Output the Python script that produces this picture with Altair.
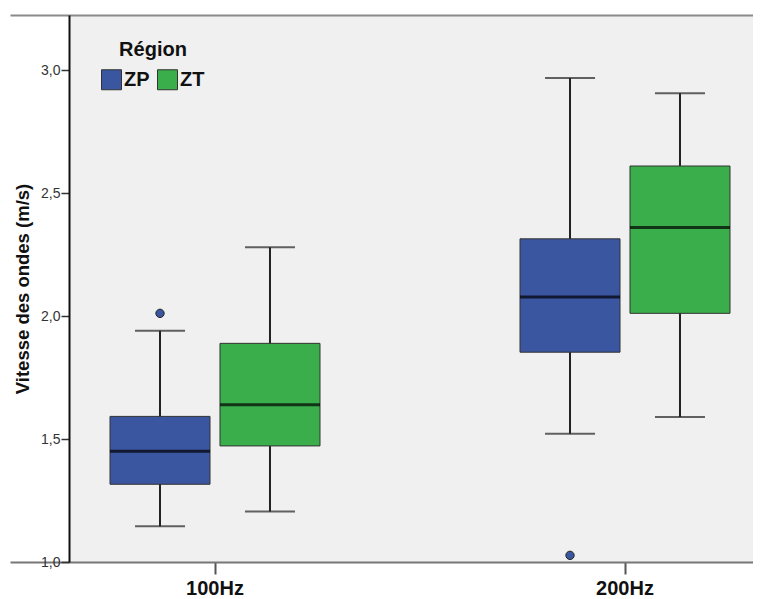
import altair as alt
import pandas as pd

# ---- data ----
freqs = ["100Hz", "100Hz", "200Hz", "200Hz"]
regions = ["ZP", "ZT", "ZP", "ZT"]
lower = [1.145, 1.205, 1.521, 1.590]
q1 = [1.316, 1.472, 1.853, 2.011]
median = [1.450, 1.639, 2.077, 2.360]
q3 = [1.592, 1.889, 2.314, 2.610]
upper = [1.940, 2.280, 2.968, 2.906]

out_freqs = ["100Hz", "200Hz"]
out_regions = ["ZP", "ZP"]
out_values = [2.011, 1.027]

y_ticks = [1.0, 1.5, 2.0, 2.5, 3.0]
region_order = ["ZP", "ZT"]
region_colors = ["#3b56a0", "#3aae4a"]

box = pd.DataFrame({"freq": freqs, "region": regions, "lower": lower, "q1": q1,
                    "median": median, "q3": q3, "upper": upper})
outl = pd.DataFrame({"freq": out_freqs, "region": out_regions, "value": out_values})

FONT = "Liberation Sans"
W, H = 684, 547

xscale = alt.Scale(range=[-59, 761], paddingInner=0, paddingOuter=0)
x_bottom = alt.X("freq:N", title=None, scale=xscale,
                 axis=alt.Axis(labelAngle=0, labelFontSize=20, labelFontWeight="bold",
                               labelColor="#111", labelFont=FONT, tickSize=12,
                               tickColor="#555", tickWidth=2, domainColor="#777",
                               domainWidth=2, labelPadding=4, grid=False))
x_top = alt.X("freq:N", title=None, scale=xscale,
              axis=alt.Axis(orient="top", labels=False, ticks=False, domainColor="#8a8a8a",
                            domainWidth=2, grid=False))
x_none = alt.X("freq:N", title=None, scale=xscale, axis=None)

xoff = alt.XOffset("region:N", scale=alt.Scale(domain=region_order, paddingInner=0,
                                                paddingOuter=0.864))
yscale = alt.Scale(domain=[1.0, 3.224], nice=False, zero=False)
yaxis = alt.Axis(values=y_ticks, labelExpr="replace(format(datum.value, '.1f'), '.', ',')",
                 title="Vitesse des ondes (m/s)", titleFontSize=18.5, titleFontWeight="bold",
                 titleFont=FONT, titleColor="#111", titlePadding=8,
                 labelFontSize=14, labelFont=FONT, labelColor="#333", labelPadding=1,
                 tickSize=8, tickColor="#333", tickWidth=1.5,
                 domainColor="#111", domainWidth=2, grid=False)

whisk = alt.Chart(box).mark_rule(color="#222", strokeWidth=2).encode(
    x=x_top, xOffset=xoff,
    y=alt.Y("lower:Q", scale=yscale, axis=yaxis), y2="upper:Q")

bars = alt.Chart(box).mark_bar(size=100, stroke="#333", strokeWidth=1, opacity=1).encode(
    x=x_bottom, xOffset=xoff,
    y=alt.Y("q1:Q", scale=yscale), y2="q3:Q",
    color=alt.Color("region:N", scale=alt.Scale(domain=region_order, range=region_colors),
                    legend=alt.Legend(title="Région", orient="none", legendX=32, legendY=25,
                                      direction="horizontal", titleAnchor="middle",
                                      titleFontSize=20, titleFontWeight="bold", titleFont=FONT,
                                      titleColor="#111", titlePadding=9,
                                      labelFontSize=20, labelFont=FONT, labelFontWeight="bold",
                                      labelColor="#111", labelOffset=2, columnPadding=5,
                                      symbolType="square", symbolSize=400,
                                      symbolStrokeColor="#333", symbolStrokeWidth=1,
                                      symbolOpacity=1, padding=0)))

base = alt.Chart(box).encode(x=x_none, xOffset=xoff)
med = base.mark_tick(size=100, thickness=3, color="black").encode(
    y=alt.Y("median:Q", scale=yscale))
cap_lo = base.mark_tick(size=50, thickness=2, color="#222").encode(
    y=alt.Y("lower:Q", scale=yscale))
cap_hi = base.mark_tick(size=50, thickness=2, color="#222").encode(
    y=alt.Y("upper:Q", scale=yscale))

pts = alt.Chart(outl).mark_point(shape="circle", filled=True, size=70, fill="#3b56a0",
                                 stroke="#222", strokeWidth=1, opacity=1).encode(
    x=x_none, xOffset=xoff, y=alt.Y("value:Q", scale=yscale))

chart = alt.layer(whisk, bars, med, cap_lo, cap_hi, pts).resolve_axis(
    x="independent"
).properties(
    width=W, height=H,
    autosize=alt.AutoSizeParams(type="none"),
    padding={"left": 61, "top": 7, "right": 0, "bottom": 40},
    background="white",
).configure_view(fill="#eff0ef", stroke=None)

chart.save("out.html", embed_options={"renderer": "svg", "actions": False})
